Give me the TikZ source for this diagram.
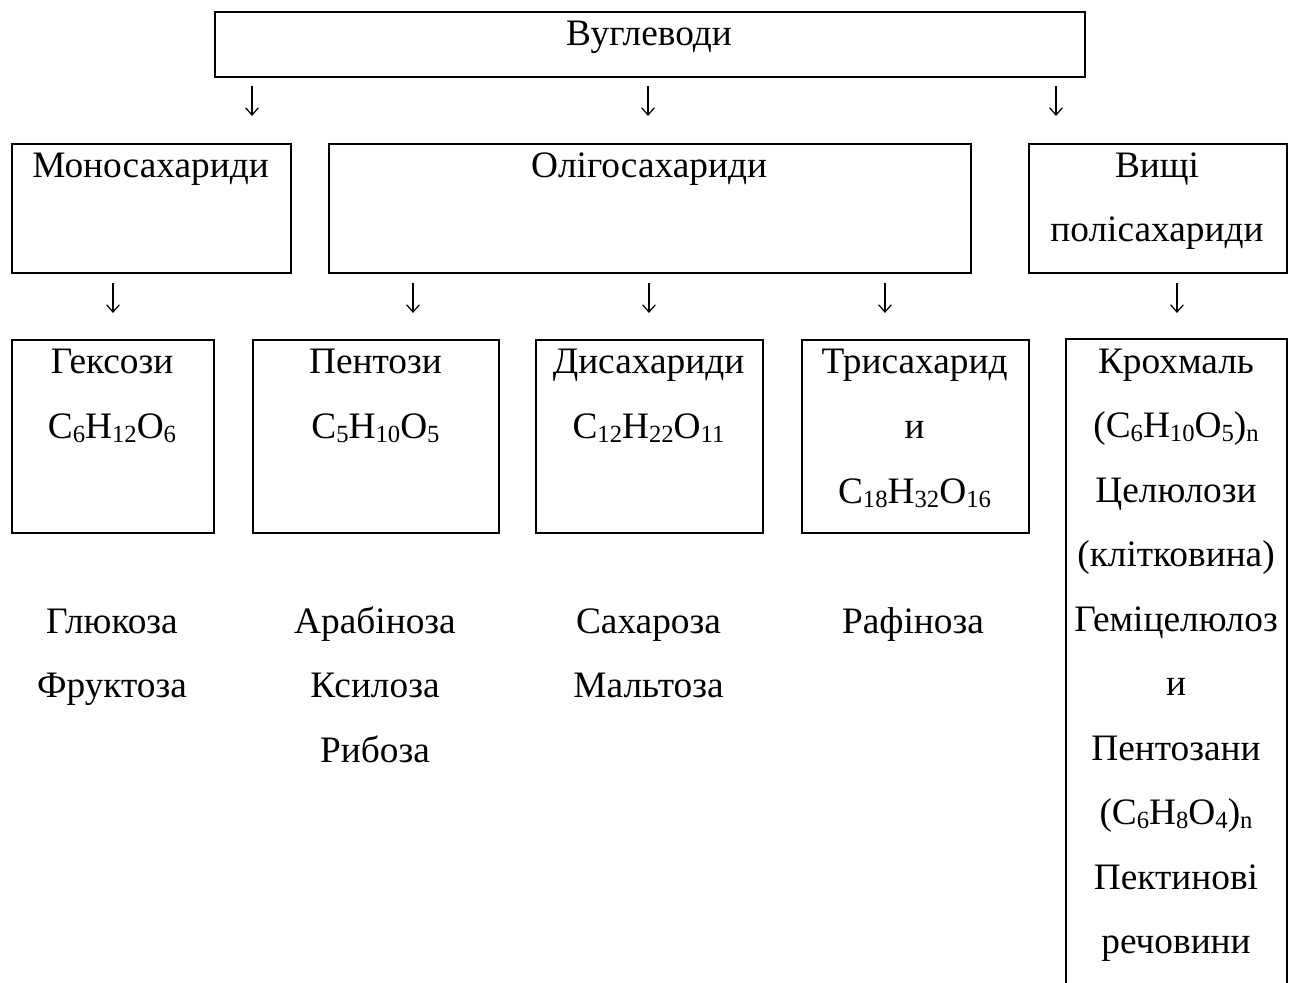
\documentclass[tikz,border=0pt]{standalone}
\usepackage{fontspec}
\setmainfont{Liberation Serif}
\usetikzlibrary{arrows.meta}
\newcommand\chemsub[1]{\raisebox{-0.12em}{\fontsize{18.5pt}{18.5pt}\selectfont #1}}
\tikzset{
  boxn/.style={draw, line width=1.5pt, inner sep=0pt, anchor=north west},
  openbox/.style={inner sep=0pt, anchor=north west},
  boxline/.style={line width=1.5pt},
  lbl/.style={inner sep=0pt, anchor=base, font=\fontsize{28pt}{32pt}\selectfont},
  garrow/.style={line width=0.9pt, -{Straight Barb[length=5.5pt, width=9.5pt, line width=0.9pt]}},
}
\begin{document}
\begin{tikzpicture}[x=0.75pt,y=-0.75pt]
\useasboundingbox (0,0) rectangle (1296,982);
% boxes
\node[boxn, minimum width=870*0.75pt, minimum height=65*0.75pt] (top) at (214,11) {};
\node[boxn, minimum width=279*0.75pt, minimum height=129*0.75pt] (mono) at (11,143) {};
\node[boxn, minimum width=642*0.75pt, minimum height=129*0.75pt] (oligo) at (328,143) {};
\node[boxn, minimum width=258*0.75pt, minimum height=129*0.75pt] (poly) at (1028,143) {};
\node[boxn, minimum width=202*0.75pt, minimum height=193*0.75pt] (heks) at (11,339) {};
\node[boxn, minimum width=246*0.75pt, minimum height=193*0.75pt] (pent) at (252,339) {};
\node[boxn, minimum width=227*0.75pt, minimum height=193*0.75pt] (dis) at (535,339) {};
\node[boxn, minimum width=227*0.75pt, minimum height=193*0.75pt] (tri) at (801,339) {};
\node[openbox, minimum width=220*0.75pt, minimum height=660*0.75pt] (krox) at (1066,339) {};
\draw[boxline] (krox.south west) |- (krox.north east) -- (krox.south east);
% titles
\node[lbl] (tTop) at (649,45) {Вуглеводи};
\node[lbl] (tMono) at (150.5,177) {Моносахариди};
\node[lbl] (tOligo) at (649,177) {Олігосахариди};
\node[lbl] (tPoly1) at (1157,177) {Вищі};
\node[lbl] (tPoly2) at (1157,241.5) {полісахариди};
% arrows row 1
\foreach \n/\x in {a1/252, a2/648, a3/1056}{
  \coordinate (\n s) at (\x,86);
  \coordinate (\n e) at (\x,116);
  \draw[garrow] (\n s) -- (\n e);
}
% arrows row 2
\foreach \n/\x in {b1/113, b2/413, b3/649, b4/885, b5/1177}{
  \coordinate (\n s) at (\x,283);
  \coordinate (\n e) at (\x,313);
  \draw[garrow] (\n s) -- (\n e);
}
% row 3 texts
\node[lbl] (h1) at (112,373) {Гексози};
\node[lbl] (h2) at (112,438) {C\chemsub{6}H\chemsub{12}O\chemsub{6}};
\node[lbl] (p1) at (375.5,373) {Пентози};
\node[lbl] (p2) at (375.5,438) {C\chemsub{5}H\chemsub{10}O\chemsub{5}};
\node[lbl] (d1) at (648.5,373) {Дисахариди};
\node[lbl] (d2) at (648.5,438) {C\chemsub{12}H\chemsub{22}O\chemsub{11}};
\node[lbl] (r1) at (914.5,373) {Трисахарид};
\node[lbl] (r2) at (914.5,438) {и};
\node[lbl] (r3) at (914.5,503) {C\chemsub{18}H\chemsub{32}O\chemsub{16}};
% polysaccharide list
\node[lbl] (k1) at (1176,373) {Крохмаль};
\node[lbl] (k2) at (1176,437.5) {(C\chemsub{6}H\chemsub{10}O\chemsub{5})\chemsub{n}};
\node[lbl] (k3) at (1176,502) {Целюлози};
\node[lbl] (k4) at (1176,566.5) {(клітковина)};
\node[lbl] (k5) at (1176,631) {Геміцелюлоз};
\node[lbl] (k6) at (1176,695.5) {и};
\node[lbl] (k7) at (1176,760) {Пентозани};
\node[lbl] (k8) at (1176,824.5) {(C\chemsub{6}H\chemsub{8}O\chemsub{4})\chemsub{n}};
\node[lbl] (k9) at (1176,889) {Пектинові};
\node[lbl] (k10) at (1176,953.5) {речовини};
% examples below
\node[lbl] (e1) at (112,633) {Глюкоза};
\node[lbl] (e2) at (112,697.5) {Фруктоза};
\node[lbl] (e3) at (375,633) {Арабіноза};
\node[lbl] (e4) at (375,697.5) {Ксилоза};
\node[lbl] (e5) at (375,762) {Рибоза};
\node[lbl] (e6) at (648.5,633) {Сахароза};
\node[lbl] (e7) at (648.5,697.5) {Мальтоза};
\node[lbl] (e8) at (913,633) {Рафіноза};
\end{tikzpicture}
\end{document}
